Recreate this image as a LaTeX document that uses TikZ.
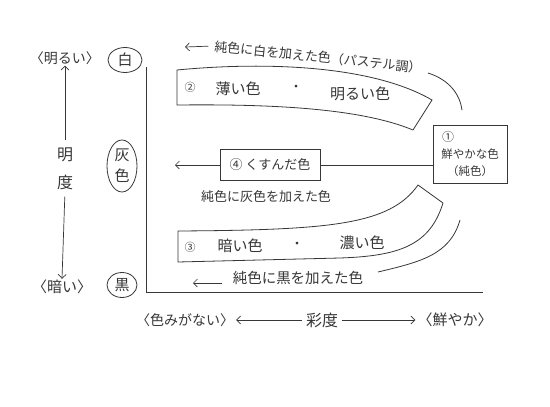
\documentclass[tikz,border=0pt]{standalone}
\usepackage{fontspec}
\newfontfamily\jp{Noto Sans CJK JP}
\usepackage{tikz}
\usetikzlibrary{shapes.geometric, arrows.meta, positioning, calc}
\definecolor{myink}{RGB}{55,55,55}
\tikzset{
  lbl/.style={font=\jp\fontsize{13}{15}\selectfont, text=myink, inner sep=1pt},
  biglbl/.style={font=\jp\fontsize{16}{18}\selectfont, text=myink, inner sep=1pt},
  sidelbl/.style={font=\jp\fontsize{14}{16}\selectfont, text=myink, inner sep=1pt},
  ring/.style={ellipse, draw=myink, line width=0.8pt, inner sep=0pt,
    font=\jp\fontsize{15}{21}\selectfont, text=myink, align=center},
  box/.style={rectangle, draw=myink, line width=0.8pt,
    font=\jp\fontsize{13}{15}\selectfont, text=myink, align=center},
  arrow/.style={-{Straight Barb[length=4pt,width=8pt]}, line width=0.7pt, color=myink},
  line/.style={line width=0.8pt, color=myink}
}

\begin{document}
\begin{tikzpicture}[x=1pt, y=-1pt]
  \useasboundingbox[fill=white] (0,0) rectangle (550,407);

  % Lightness axis (left)
  \node[sidelbl] (bright) at (65,58) {〈明るい〉};
  \node[biglbl] (ming) at (65,155) {明};
  \node[biglbl] (du) at (65,182) {度};
  \node[sidelbl, font=\jp\fontsize{15}{17}\selectfont] (dark) at (62,287) {〈暗い〉};
  \draw[arrow, shorten <=7pt] (ming.north) -- (bright.south);
  \draw[arrow, shorten <=6pt] (du.south) -- (dark.north);

  % White, grey, black
  \node[ring, minimum width=34pt, minimum height=25pt] (white) at (125,60) {白};
  \node[ring, minimum width=30pt, minimum height=52pt] (grey) at (122,166) {灰\\色};
  \node[ring, minimum width=30pt, minimum height=25pt] (black) at (122,285) {黒};

  % Axes
  \coordinate (ytop) at (146,67);
  \coordinate (origin) at (146,292);
  \coordinate (xend) at (483,292);
  \draw[line] (ytop) -- (origin) -- (xend);

  % (1) pure colour
  \node[box, minimum width=74pt, minimum height=58pt, font=\jp\fontsize{11.5}{17}\selectfont]
    (pure) at (470,154) {\makebox[5.2em][l]{\,\large ①}\\鮮やかな色\\（純色）};

  % (4) dull colour
  \node[box, minimum width=100pt, minimum height=31pt] (dull) at (270,165) {④ くすんだ色};
  \coordinate (dullend) at (175,165);
  \draw[line] (dull.east) -- (dull.east -| pure.west);
  \draw[arrow] (dull.west) -- (dullend);
  \node[lbl] (greyadd) at (266,197) {純色に灰色を加えた色};

  % (2) pale colours band
  \draw[line] (177,70) -- (177,105)
    .. controls (270,104) and (360,108) .. (413,130) -- (432,100)
    .. controls (370,64) and (260,62) .. cycle;
  \node[lbl, font=\jp\fontsize{11}{13}\selectfont] (n2) at (190,87) {②};
  \node[lbl, font=\jp\fontsize{15}{17}\selectfont] (pale) at (238,89) {薄い色};
  \node[lbl] (dot2) at (296,88) {・};
  \node[lbl, font=\jp\fontsize{15}{17}\selectfont] (light) at (360,94) {明るい色};

  \node[lbl, rotate=-6] (whiteadd) at (318,57) {純色に白を加えた色（パステル調）};
  \coordinate (whitearr) at (185,47);
  \draw[arrow, shorten <=5pt] (whiteadd.west) -- (whitearr);
  \draw[line] (428,73) .. controls (450,80) and (460,95) .. (462,110);

  % (3) dark colours band
  \draw[line] (178,231) .. controls (330,230) and (390,225) .. (418,185) -- (443,203)
    .. controls (430,245) and (400,256) .. (340,258) -- (178,262) -- cycle;
  \node[lbl, font=\jp\fontsize{11}{13}\selectfont] (n3) at (190,247) {③};
  \node[lbl, font=\jp\fontsize{15}{17}\selectfont] (darkc) at (240,246) {暗い色};
  \node[lbl] (dot3) at (297,245) {・};
  \node[lbl, font=\jp\fontsize{15}{17}\selectfont] (deep) at (362,243) {濃い色};

  \node[lbl, font=\jp\fontsize{14.5}{16}\selectfont] (blackadd) at (298,278) {純色に黒を加えた色};
  \coordinate (blackarr) at (193,283);
  \draw[arrow, shorten <=10pt] (blackadd.west |- blackarr) -- (blackarr);
  \draw[line] (460,220) .. controls (450,255) and (420,262) .. (378,272);

  % Chroma axis (bottom)
  \node[sidelbl] (nohue) at (185,320) {〈色みがない〉};
  \node[biglbl] (chroma) at (322,320) {彩度};
  \node[sidelbl, font=\jp\fontsize{15}{17}\selectfont] (vivid) at (455,320) {〈鮮やか〉};
  \draw[arrow, shorten <=3pt, shorten >=1pt] (chroma.west) -- (nohue.east);
  \draw[arrow, shorten <=3pt, shorten >=1pt] (chroma.east) -- (vivid.west);
\end{tikzpicture}
\end{document}
